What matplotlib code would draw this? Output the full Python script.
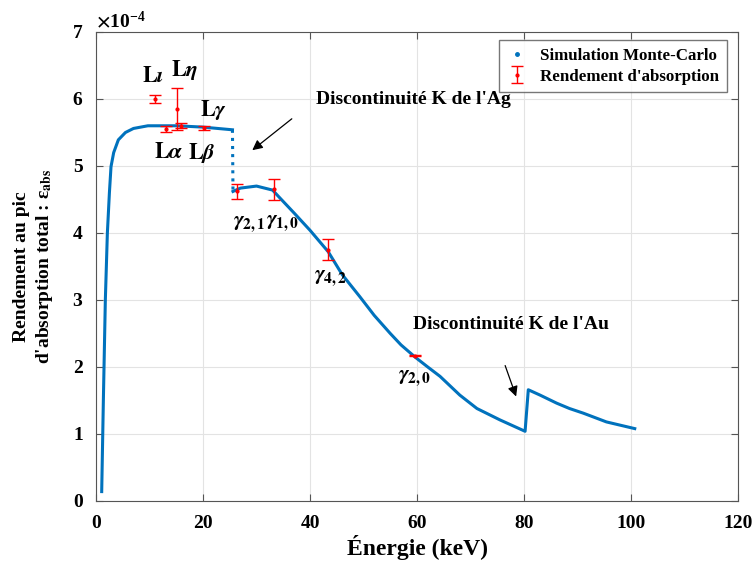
import numpy as np
import matplotlib
matplotlib.use('Agg')
import matplotlib.pyplot as plt
from matplotlib.lines import Line2D
from matplotlib.ticker import ScalarFormatter

plt.rcParams['font.family'] = 'Liberation Serif'
plt.rcParams['font.weight'] = 'bold'
plt.rcParams['mathtext.fontset'] = 'stix'

# Monte-Carlo simulation (values in units of 1e-4)
# segment 1: below Ag K edge
E_low = [1.06, 1.37, 1.74, 2.12, 2.5, 2.8, 3.3, 4.17, 5.5, 7.0, 9.7, 15, 20, 25.5]
eff_low = [0.14, 1.5, 3.0, 4.0, 4.6, 4.99, 5.2, 5.39, 5.5, 5.56, 5.6, 5.6, 5.58, 5.54]
# segment 2: between Ag and Au K edges, then above Au edge
E_high = [25.6, 27, 30, 33, 34.4, 37, 40, 43.4, 46, 49.3, 52, 55, 57, 59.6, 62, 64.3,
          68, 71.2, 75.5, 80.2, 80.8, 83, 86.1, 88.5, 91.1, 95.4, 100.7]
eff_high = [4.62, 4.67, 4.70, 4.64, 4.52, 4.3, 4.04, 3.72, 3.38, 3.05, 2.77, 2.50, 2.33,
            2.15, 2.0, 1.86, 1.58, 1.38, 1.21, 1.04, 1.66, 1.58, 1.46, 1.38, 1.31, 1.18, 1.08]

# measured absorption efficiency (units of 1e-4)
E_meas = [11.0, 15.1, 13.1, 15.8, 20.1, 26.3, 33.3, 43.4, 59.6]
eff_meas = [6.0, 5.85, 5.55, 5.60, 5.57, 4.62, 4.65, 3.75, 2.17]
err_meas = [0.06, 0.31, 0.04, 0.04, 0.03, 0.11, 0.16, 0.16, 0.01]

# line labels: text, x, y
labels = [(r'$\mathbf{L}\iota$', 10.6, 6.33),
          (r'$\mathbf{L}\eta$', 16.6, 6.43),
          (r'$\mathbf{L}\gamma$', 22.0, 5.84),
          (r'$\mathbf{L}\alpha$', 13.6, 5.19),
          (r'$\mathbf{L}\beta$', 19.7, 5.19),
          (r'$\gamma_{\mathbf{2,1}}$', 28.6, 4.14),
          (r'$\gamma_{\mathbf{1,0}}$', 34.9, 4.15),
          (r'$\gamma_{\mathbf{4,2}}$', 43.9, 3.33),
          (r'$\gamma_{\mathbf{2,0}}$', 59.5, 1.84)]

blue = '#0072BD'
s = 1e-4

fig = plt.figure(figsize=(7.52, 5.61), dpi=100)
ax = fig.add_axes([0.1277, 0.107, 0.8537, 0.836])

ax.plot(np.array(E_low), np.array(eff_low) * s, '-', color=blue, lw=2.2)
ax.plot([E_low[-1], E_high[0]], [eff_low[-1] * s, eff_high[0] * s], ':', color=blue, lw=2.2)
ax.plot(np.array(E_high), np.array(eff_high) * s, '-', color=blue, lw=2.2)

ax.errorbar(E_meas, np.array(eff_meas) * s, yerr=np.array(err_meas) * s, fmt='.',
            color='red', ecolor='red', markersize=4, elinewidth=1, capsize=4.5,
            capthick=1)

for txt, x, y in labels:
    ax.text(x, y * s, txt, fontsize=16, ha='center', va='center')

ax.text(41.1, 5.99 * s, "Discontinuité K de l'Ag", fontsize=14, fontweight='bold',
        va='center', ha='left')
ax.annotate('', xy=(28.8, 5.21 * s), xytext=(37.0, 5.73 * s),
            arrowprops=dict(arrowstyle='-|>', color='black', lw=0.9, mutation_scale=15))
ax.text(59.3, 2.64 * s, "Discontinuité K de l'Au", fontsize=14, fontweight='bold',
        va='center', ha='left')
ax.annotate('', xy=(78.7, 1.52 * s), xytext=(76.3, 2.06 * s),
            arrowprops=dict(arrowstyle='-|>', color='black', lw=0.9, mutation_scale=15))

ax.set_xlim(0, 120)
ax.set_ylim(0, 7e-4)
ax.set_xticks(range(0, 121, 20))
ax.set_yticks(np.arange(0, 8) * s)
fmt = ScalarFormatter(useMathText=True)
fmt.set_powerlimits((-3, 3))
ax.yaxis.set_major_formatter(fmt)
ax.yaxis.get_offset_text().set_fontsize(14)
ax.yaxis.get_offset_text().set_fontweight('bold')
ax.tick_params(direction='in', top=True, right=True, labelsize=14, length=5, color='#555555')
ax.tick_params(axis='x', pad=10)
ax.tick_params(axis='y', pad=9)
for lab in ax.get_xticklabels() + ax.get_yticklabels():
    lab.set_fontweight('bold')
for sp in ax.spines.values():
    sp.set_color('#555555')
ax.grid(True, color='#e3e3e3', lw=0.8)
ax.set_axisbelow(True)

ax.set_xlabel('Énergie (keV)', fontsize=17, fontweight='bold', labelpad=2)
ax.set_ylabel("Rendement au pic\nd'absorption total : ε$_{\\rm abs}$", fontsize=14,
              fontweight='bold', labelpad=12, linespacing=1.3)

handles = [Line2D([], [], marker='.', ls='none', color=blue, markersize=5)]
eb = ax.containers[0]
leg = ax.legend([handles[0], eb], ['Simulation Monte-Carlo', "Rendement d'absorption"],
                loc='upper right', fontsize=12.2, frameon=True, fancybox=False,
                edgecolor='#555555', handlelength=1.2, handletextpad=0.8,
                borderpad=0.45, labelspacing=0.3, borderaxespad=0,
                bbox_to_anchor=(0.983, 0.983))
for t in leg.get_texts():
    t.set_fontweight('bold')

fig.savefig('out.png', dpi=100)
